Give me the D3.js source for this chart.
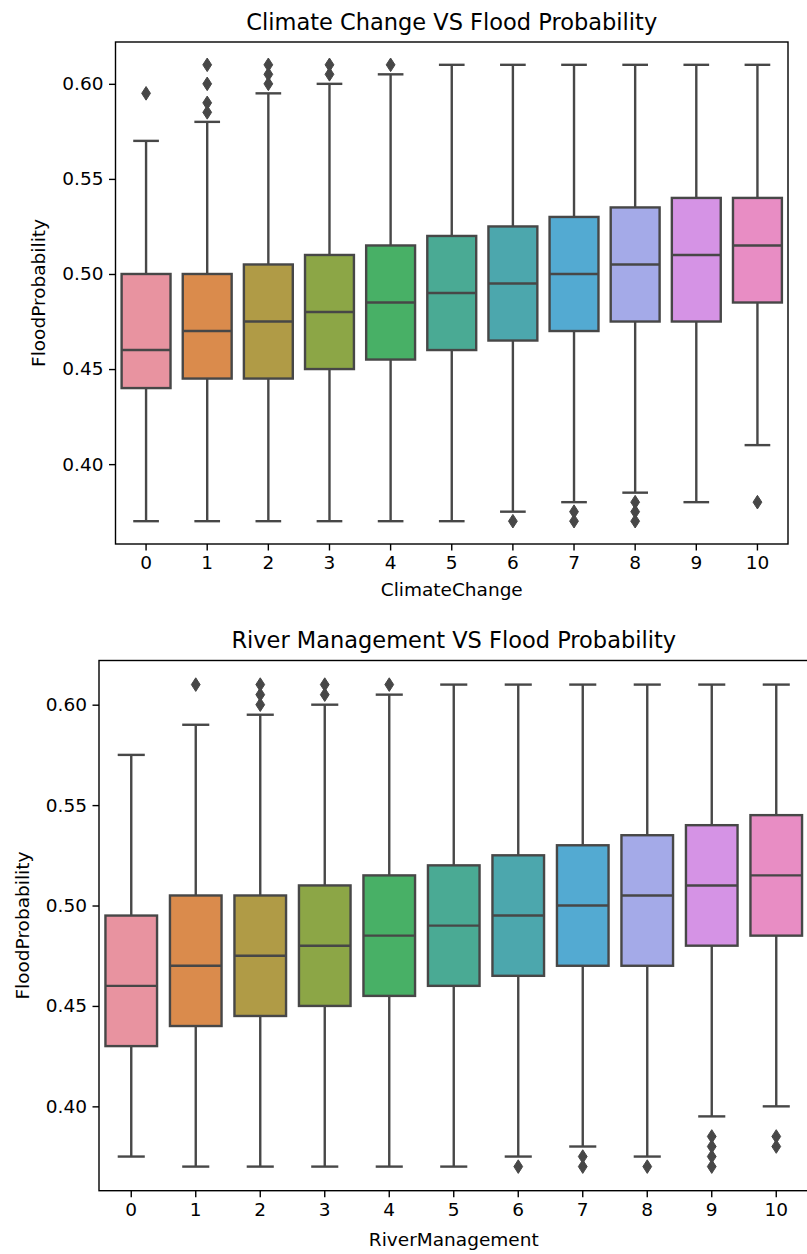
<!DOCTYPE html>
<html>
<head>
<meta charset="utf-8">
<script src="https://cdn.jsdelivr.net/npm/d3@7"></script>
<style>
  html, body { margin: 0; padding: 0; background: #fff; }
  svg { display: block; }
  text { font-family: "DejaVu Sans", sans-serif; fill: #000; }
</style>
</head>
<body>
<svg id="chart" width="807" height="1254"></svg>
<script>
// ---------- data ----------
const categories = [0, 1, 2, 3, 4, 5, 6, 7, 8, 9, 10];
const yTicks = [0.40, 0.45, 0.50, 0.55, 0.60];

// Climate Change VS Flood Probability
const ccLow    = [0.37, 0.37, 0.37, 0.37, 0.37, 0.37, 0.375, 0.38, 0.385, 0.38, 0.41];
const ccQ1     = [0.44, 0.445, 0.445, 0.45, 0.455, 0.46, 0.465, 0.47, 0.475, 0.475, 0.485];
const ccMedian = [0.46, 0.47, 0.475, 0.48, 0.485, 0.49, 0.495, 0.50, 0.505, 0.51, 0.515];
const ccQ3     = [0.50, 0.50, 0.505, 0.51, 0.515, 0.52, 0.525, 0.53, 0.535, 0.54, 0.54];
const ccHigh   = [0.57, 0.58, 0.595, 0.60, 0.605, 0.61, 0.61, 0.61, 0.61, 0.61, 0.61];
const ccOutliers = [
  [0.595],
  [0.585, 0.59, 0.60, 0.61],
  [0.60, 0.605, 0.61],
  [0.605, 0.61],
  [0.61],
  [],
  [0.37],
  [0.375, 0.37],
  [0.38, 0.375, 0.37],
  [],
  [0.38]
];

// River Management VS Flood Probability
const rmLow    = [0.375, 0.37, 0.37, 0.37, 0.37, 0.37, 0.375, 0.38, 0.375, 0.395, 0.40];
const rmQ1     = [0.43, 0.44, 0.445, 0.45, 0.455, 0.46, 0.465, 0.47, 0.47, 0.48, 0.485];
const rmMedian = [0.46, 0.47, 0.475, 0.48, 0.485, 0.49, 0.495, 0.50, 0.505, 0.51, 0.515];
const rmQ3     = [0.495, 0.505, 0.505, 0.51, 0.515, 0.52, 0.525, 0.53, 0.535, 0.54, 0.545];
const rmHigh   = [0.575, 0.59, 0.595, 0.60, 0.605, 0.61, 0.61, 0.61, 0.61, 0.61, 0.61];
const rmOutliers = [
  [],
  [0.61],
  [0.60, 0.605, 0.61],
  [0.605, 0.61],
  [0.61],
  [],
  [0.37],
  [0.375, 0.37],
  [0.37],
  [0.385, 0.38, 0.375, 0.37],
  [0.385, 0.38]
];

const palette = ["#e893a0", "#da8b4c", "#b09b46", "#8ca646", "#48b066", "#4aaa94",
                 "#4ca7ad", "#53aad2", "#a4aae8", "#d593e5", "#e88dc4"];

// ---------- drawing ----------
const svg = d3.select("#chart");
const edge = "#474747";

function drawPanel(cfg) {
  const { left, right, top, bottom, title, titleY, xLabel, xLabelY, yLabelX,
          low, q1, med, q3, high, outliers } = cfg;
  const g = svg.append("g");

  const x = d3.scaleBand().domain(categories).range([left, right]).paddingInner(0).paddingOuter(0);
  const y = d3.scaleLinear().domain([0.358, 0.622]).range([bottom, top]);
  const bw = x.bandwidth();
  const cx = c => x(c) + bw / 2;

  const rows = categories.map((c, i) => ({
    c, i, low: low[i], q1: q1[i], med: med[i], q3: q3[i], high: high[i], out: outliers[i]
  }));

  const box = g.selectAll("g.box").data(rows).join("g").attr("class", "box");
  // whiskers
  box.append("line")
    .attr("x1", d => cx(d.c)).attr("x2", d => cx(d.c))
    .attr("y1", d => y(d.q3)).attr("y2", d => y(d.high))
    .attr("stroke", edge).attr("stroke-width", 2.4);
  box.append("line")
    .attr("x1", d => cx(d.c)).attr("x2", d => cx(d.c))
    .attr("y1", d => y(d.q1)).attr("y2", d => y(d.low))
    .attr("stroke", edge).attr("stroke-width", 2.4);
  // caps
  box.append("line")
    .attr("x1", d => cx(d.c) - bw * 0.21).attr("x2", d => cx(d.c) + bw * 0.21)
    .attr("y1", d => y(d.high)).attr("y2", d => y(d.high))
    .attr("stroke", edge).attr("stroke-width", 2.4);
  box.append("line")
    .attr("x1", d => cx(d.c) - bw * 0.21).attr("x2", d => cx(d.c) + bw * 0.21)
    .attr("y1", d => y(d.low)).attr("y2", d => y(d.low))
    .attr("stroke", edge).attr("stroke-width", 2.4);
  // boxes
  box.append("rect")
    .attr("x", d => cx(d.c) - bw * 0.4)
    .attr("width", bw * 0.8)
    .attr("y", d => y(d.q3))
    .attr("height", d => y(d.q1) - y(d.q3))
    .attr("fill", d => palette[d.i])
    .attr("stroke", edge).attr("stroke-width", 2.4);
  // medians
  box.append("line")
    .attr("x1", d => cx(d.c) - bw * 0.4).attr("x2", d => cx(d.c) + bw * 0.4)
    .attr("y1", d => y(d.med)).attr("y2", d => y(d.med))
    .attr("stroke", edge).attr("stroke-width", 2.4);
  // outliers (thin diamonds)
  const dw = 4.4, dh = 6.8;
  box.selectAll("path.flier").data(d => d.out.map(v => ({ c: d.c, v }))).join("path")
    .attr("class", "flier")
    .attr("d", d => {
      const px = cx(d.c), py = y(d.v);
      return `M${px},${py - dh}L${px + dw},${py}L${px},${py + dh}L${px - dw},${py}Z`;
    })
    .attr("fill", edge).attr("stroke", edge).attr("stroke-width", 1);

  // axes
  const xAxis = g.append("g").attr("transform", `translate(0,${bottom})`)
    .call(d3.axisBottom(x).tickSize(6.5).tickPadding(5.5));
  const yAxis = g.append("g").attr("transform", `translate(${left},0)`)
    .call(d3.axisLeft(y).tickValues(yTicks).tickFormat(d3.format(".2f")).tickSize(6.5).tickPadding(5.5));
  [xAxis, yAxis].forEach(a => {
    a.select(".domain").remove();
    a.selectAll(".tick line").attr("stroke", "#000").attr("stroke-width", 1.4);
    a.selectAll(".tick text").style("font-size", "18.5px").style("font-family", "DejaVu Sans").attr("fill", "#000");
  });

  // frame
  g.append("rect")
    .attr("x", left).attr("y", top)
    .attr("width", right - left).attr("height", bottom - top)
    .attr("fill", "none").attr("stroke", "#000").attr("stroke-width", 1.4);

  // labels
  g.append("text").attr("x", (left + right) / 2).attr("y", titleY)
    .attr("text-anchor", "middle").style("font-size", "22.5px").text(title);
  g.append("text").attr("x", (left + right) / 2).attr("y", xLabelY)
    .attr("text-anchor", "middle").style("font-size", "18.5px").text(xLabel);
  g.append("text")
    .attr("transform", `translate(${yLabelX},${(top + bottom) / 2}) rotate(-90)`)
    .attr("text-anchor", "middle").style("font-size", "18.5px").text("FloodProbability");
}

drawPanel({
  left: 115.5, right: 788, top: 42, bottom: 544,
  title: "Climate Change VS Flood Probability", titleY: 30,
  xLabel: "ClimateChange", xLabelY: 596, yLabelX: 45,
  low: ccLow, q1: ccQ1, med: ccMedian, q3: ccQ3, high: ccHigh, outliers: ccOutliers
});

drawPanel({
  left: 99, right: 808.5, top: 660.5, bottom: 1190.7,
  title: "River Management VS Flood Probability", titleY: 648,
  xLabel: "RiverManagement", xLabelY: 1246, yLabelX: 29,
  low: rmLow, q1: rmQ1, med: rmMedian, q3: rmQ3, high: rmHigh, outliers: rmOutliers
});
</script>
</body>
</html>
